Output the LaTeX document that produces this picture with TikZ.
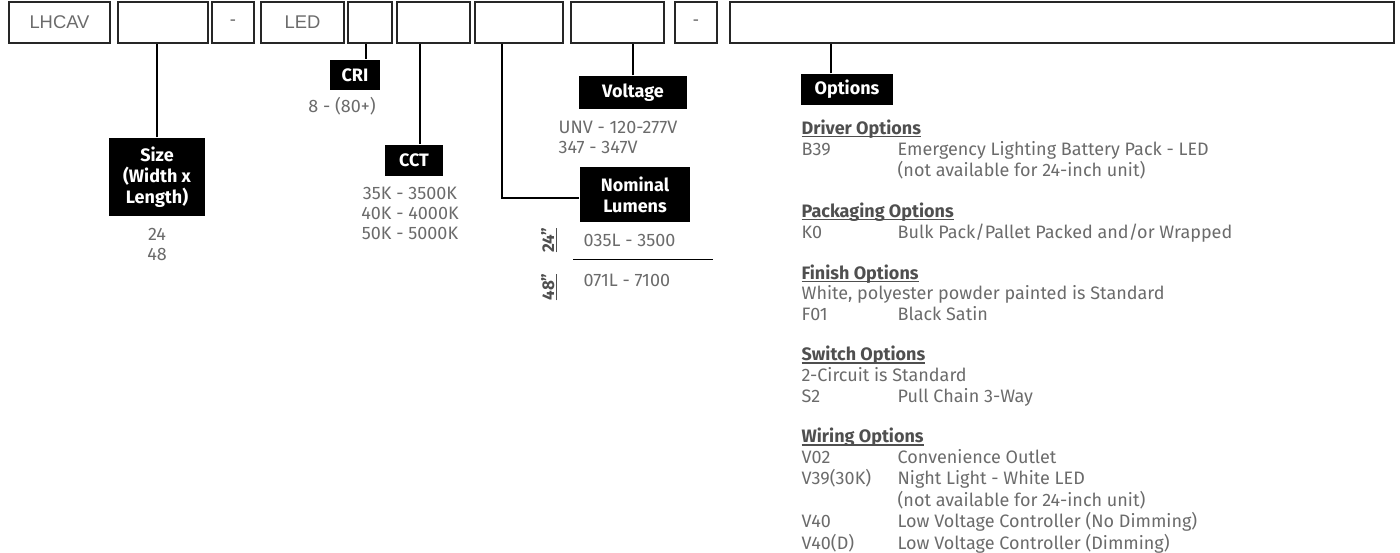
\documentclass[tikz,border=0pt]{standalone}
\usepackage{fontspec}
\setmainfont{Fira Sans}
\newfontfamily\boxfont{Liberation Sans}
\usetikzlibrary{positioning}
\definecolor{txtgray}{HTML}{6B6B6B}
\definecolor{hdgray}{HTML}{4F4F4F}
\newcommand{\lowline}[1]{\setbox0=\hbox{#1}\leavevmode\rlap{\rule[-2.6pt]{\wd0}{1.1pt}}\box0}
\newcommand{\opthead}[1]{\multicolumn{2}{@{}l@{}}{\textcolor{hdgray}{\bfseries\lowline{#1}}}}

\begin{document}
\begin{tikzpicture}[x=1pt, y=-1pt, line width=1.3pt,
  fld/.style={draw=black!85, minimum height=41pt, inner sep=0pt,
              font=\boxfont\fontsize{18.4}{20}\selectfont, text=txtgray},
  tag/.style={fill=black, text=white, inner sep=0pt, align=center,
              font=\bfseries\fontsize{18}{21}\selectfont},
  val/.style={text=txtgray, inner sep=0pt, font=\fontsize{18}{20}\selectfont}]
  \useasboundingbox (0,0) rectangle (1400,552);

  % code fields
  \node[fld, minimum width=101] (b1)  at (59.5,22.5)  {LHCAV};
  \node[fld, minimum width=90]  (b2)  at (163,22.5)   {};
  \node[fld, minimum width=42]  (b3)  at (233,22.5)   {-};
  \node[fld, minimum width=83]  (b4)  at (302.5,22.5) {LED};
  \node[fld, minimum width=44]  (b5)  at (370,22.5)   {};
  \node[fld, minimum width=73]  (b6)  at (433.5,22.5) {};
  \node[fld, minimum width=88]  (b7)  at (519,22.5)   {};
  \node[fld, minimum width=93]  (b8)  at (617.5,22.5) {};
  \node[fld, minimum width=42]  (b9)  at (696,22.5)   {-};
  \node[fld, minimum width=664] (b10) at (1062,22.5)  {};

  % headings
  \node[tag, minimum width=96, minimum height=78] (size) at (157,177)
    {Size\\(Width x\\Length)};
  \node[tag, minimum width=50, minimum height=30] (cri)  at (355,75)    {CRI};
  \node[tag, minimum width=58, minimum height=31] (cct)  at (414,160.5) {CCT};
  \node[tag, minimum width=110, minimum height=55] (lum) at (635,194.5)
    {Nominal\\Lumens};
  \node[tag, minimum width=108, minimum height=33] (volt) at (633,92.5) {Voltage};
  \node[tag, minimum width=92, minimum height=31] (opt)  at (847,89.5)  {Options};

  % leaders
  \draw (size.north) -- (size.north |- b2.south);
  \draw ([xshift=-4pt]b5.south) -- ([xshift=-4pt]b5.south |- cri.north);
  \draw ([xshift=-13.5pt]b6.south) -- ([xshift=-13.5pt]b6.south |- cct.north);
  \draw ([xshift=-17pt]b7.south) |- ([yshift=-3.5pt]lum.west);
  \draw (volt.north) -- (volt.north |- b8.south);
  \draw ([xshift=-16pt]opt.north) -- ([xshift=-16pt]opt.north |- b10.south);

  % values
  \node[val, align=center] (sizev) at (157,244)  {24\\48};
  \node[val] (criv) at (342,106) {8 - (80+)};
  \node[val, align=center] (cctv) at (410,213) {35K - 3500K\\40K - 4000K\\50K - 5000K};
  \node[val, align=left, anchor=west] (voltv) at (558,137) {UNV - 120-277V\\347 - 347V};

  \node[val, anchor=west] (l24) at (583,240) {035L - 3500};
  \node[val, anchor=west] (l48) at (583,280) {071L - 7100};
  \node[val, text=hdgray, rotate=90, font=\bfseries\fontsize{17}{18}\selectfont]
    (t24) at (549,240) {\lowline{24”}};
  \node[val, text=hdgray, rotate=90, font=\bfseries\fontsize{17}{18}\selectfont]
    (t48) at (549,287) {\lowline{48”}};
  \draw ([xshift=-10pt]l24.west) ++(0,-19.5pt) coordinate (rl) -- (rl -| 713,0);

  % option list
  \node[val, anchor=north west, font=\fontsize{18}{20.6}\selectfont] (optv) at (801,119.5) {%
    \begin{tabular}{@{}p{96pt}@{}l@{}}
    \opthead{Driver Options}\\
    B39 & Emergency Lighting Battery Pack - LED\\
        & (not available for 24-inch unit)\\[20pt]
    \opthead{Packaging Options}\\
    K0 & Bulk Pack/Pallet Packed and/or Wrapped\\[20pt]
    \opthead{Finish Options}\\
    \multicolumn{2}{@{}l@{}}{White, polyester powder painted is Standard}\\
    F01 & Black Satin\\[20pt]
    \opthead{Switch Options}\\
    \multicolumn{2}{@{}l@{}}{2-Circuit is Standard}\\
    S2 & Pull Chain 3-Way\\[20pt]
    \opthead{Wiring Options}\\
    V02 & Convenience Outlet\\
    V39(30K) & Night Light - White LED\\
             & (not available for 24-inch unit)\\
    V40 & Low Voltage Controller (No Dimming)\\
    V40(D) & Low Voltage Controller (Dimming)
    \end{tabular}};
\end{tikzpicture}
\end{document}
